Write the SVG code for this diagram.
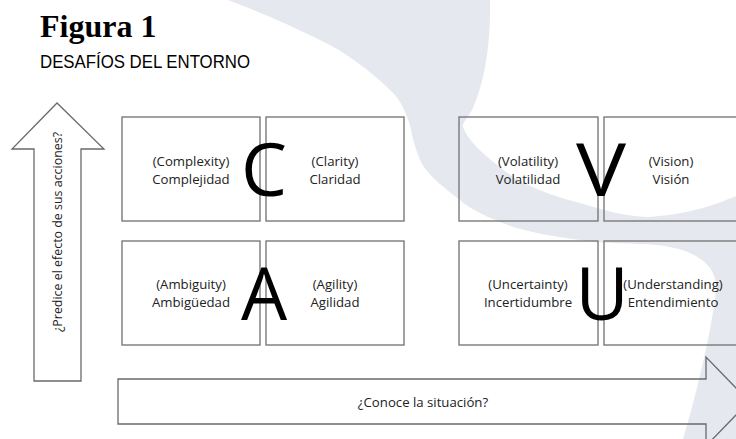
<svg xmlns="http://www.w3.org/2000/svg" width="736" height="439" viewBox="0 0 736 439">
<style>
.box{fill:none;stroke:#7a7a7a;stroke-width:1.4}
.arrow{fill:none;stroke:#6a6a6a;stroke-width:1.3}
.lbl{font-family:"Open Sans","Liberation Sans",sans-serif;font-size:13.2px;fill:#222;text-anchor:middle}
.big{font-family:"Open Sans","Liberation Sans",sans-serif;font-size:73px;fill:#000;text-anchor:middle}
.wm{fill:#e6e8ef}
</style>
<rect width="736" height="439" fill="#ffffff"/>
<g id="watermark">
<path class="wm" d="M228,0 L490,0 C491,45 484,85 472,110 C466,120 462,124 463,127 C468,140 480,153 513,177 C540,192 560,198 580,203 C610,212 630,217 650,217 C690,214 715,205 736,196 L736,439 L683,439 C695,400 712,330 716,290 C718,262 690,245 640,244 C610,243 590,242 580,240 C550,236 530,232 513,227 C490,218 470,210 460,200 C440,185 425,172 420,160 C414,145 412,135 410,125 C405,110 400,100 393,93 C370,70 345,52 320,40 C290,25 260,12 228,0 Z"/>
</g>
<g id="title">
<text x="40" y="37" font-family="Liberation Serif,serif" font-weight="bold" font-size="32">Figura 1</text>
<text x="40" y="68" font-family="Liberation Sans,Arial,sans-serif" font-size="18" textLength="210" lengthAdjust="spacingAndGlyphs">DESAFÍOS DEL ENTORNO</text>
</g>
<g id="connectors">
<g id="axis-vertical">
<polygon class="arrow" points="34,381 34,149 12,149 57,103 104,149 81,149 81,381"/>
<text transform="translate(62,232) rotate(-90)" font-family="Open Sans,Liberation Sans,sans-serif" font-size="12.5" fill="#222" text-anchor="middle" textLength="200" lengthAdjust="spacingAndGlyphs">¿Predice el efecto de sus acciones?</text>
</g>
<g id="axis-horizontal">
<polygon class="arrow" points="118,379 706,379 706,357 749,401.5 706,446 706,424 118,424"/>
<text class="lbl" x="423" y="407" font-size="14">¿Conoce la situación?</text>
</g>
</g>
<g id="node-complejidad">
<rect class="box" x="122" y="117" width="138" height="104"/>
<text class="lbl" x="191" y="166">(Complexity)</text>
<text class="lbl" x="191" y="184">Complejidad</text>
</g>
<g id="node-claridad">
<rect class="box" x="266" y="117" width="138" height="104"/>
<text class="lbl" x="335" y="166">(Clarity)</text>
<text class="lbl" x="335" y="184">Claridad</text>
</g>
<g id="node-ambiguedad">
<rect class="box" x="122" y="241" width="138" height="104"/>
<text class="lbl" x="191" y="289">(Ambiguity)</text>
<text class="lbl" x="191" y="307">Ambigüedad</text>
</g>
<g id="node-agilidad">
<rect class="box" x="266" y="241" width="138" height="104"/>
<text class="lbl" x="335" y="289">(Agility)</text>
<text class="lbl" x="335" y="307">Agilidad</text>
</g>
<g id="node-volatilidad">
<rect class="box" x="459" y="117" width="139" height="104"/>
<text class="lbl" x="528" y="166">(Volatility)</text>
<text class="lbl" x="528" y="184">Volatilidad</text>
</g>
<g id="node-vision">
<rect class="box" x="604" y="117" width="139" height="104"/>
<text class="lbl" x="671" y="166">(Vision)</text>
<text class="lbl" x="671" y="184">Visión</text>
</g>
<g id="node-incertidumbre">
<rect class="box" x="459" y="241" width="139" height="104"/>
<text class="lbl" x="528" y="289">(Uncertainty)</text>
<text class="lbl" x="528" y="307">Incertidumbre</text>
</g>
<g id="node-entendimiento">
<rect class="box" x="604" y="241" width="139" height="104"/>
<text class="lbl" x="673" y="289">(Understanding)</text>
<text class="lbl" x="673" y="307">Entendimiento</text>
</g>
<g id="letters">
<text class="big" x="264" y="196">C</text>
<text class="big" x="264" y="320">A</text>
<text class="big" transform="translate(601,196) scale(1.15,1)" x="0" y="0">V</text>
<text class="big" x="602" y="320">U</text>
</g>
</svg>
